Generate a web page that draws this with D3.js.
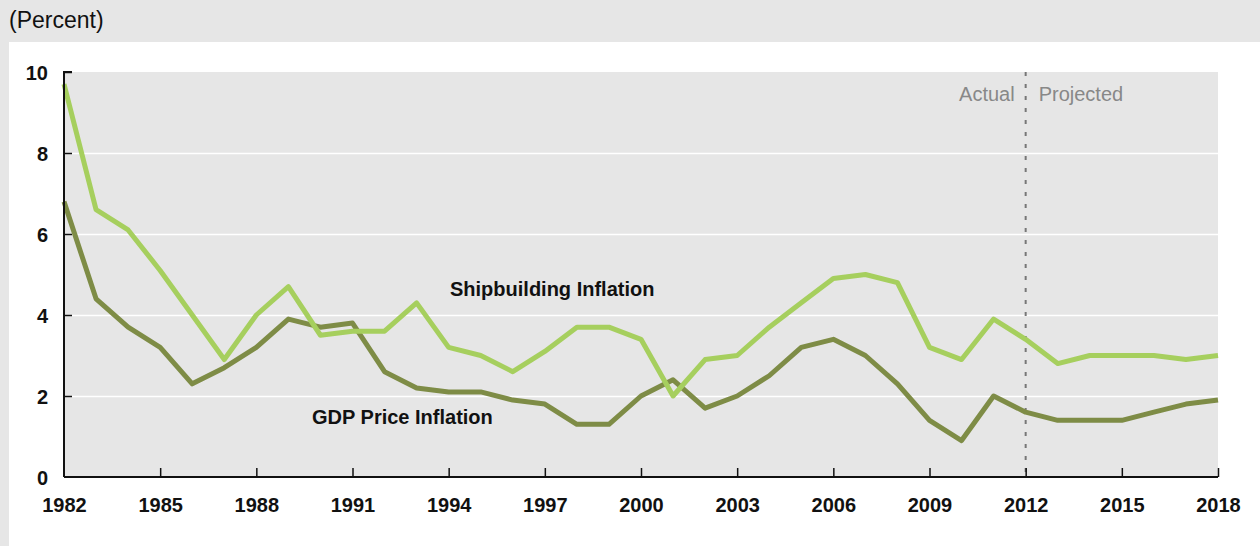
<!DOCTYPE html>
<html>
<head>
<meta charset="utf-8">
<script src="https://cdn.jsdelivr.net/npm/d3@7"></script>
<style>
  body { margin: 0; background: #e6e6e6; }
  svg { display: block; }
</style>
</head>
<body>
<svg id="viz" width="1260" height="546"></svg>
<script>
// values
const years = d3.range(1982, 2019)
const shipbuilding = [9.7, 6.6, 6.1, 5.1, 4.0, 2.9, 4.0, 4.7, 3.5, 3.6, 3.6, 4.3, 3.2, 3.0, 2.6, 3.1, 3.7, 3.7, 3.4, 2.0,
  2.9, 3.0, 3.7, 4.3, 4.9, 5.0, 4.8, 3.2, 2.9, 3.9, 3.4, 2.8, 3.0, 3.0, 3.0, 2.9, 3.0]
const gdp = [6.8, 4.4, 3.7, 3.2, 2.3, 2.7, 3.2, 3.9, 3.7, 3.8, 2.6, 2.2, 2.1, 2.1, 1.9, 1.8, 1.3, 1.3, 2.0, 2.4,
  1.7, 2.0, 2.5, 3.2, 3.4, 3.0, 2.3, 1.4, 0.9, 2.0, 1.6, 1.4, 1.4, 1.4, 1.6, 1.8, 1.9]
const xTicks = [1982, 1985, 1988, 1991, 1994, 1997, 2000, 2003, 2006, 2009, 2012, 2015, 2018]
const yTicks = [0, 2, 4, 6, 8, 10]
const splitYear = 2012

const font = 'Liberation Sans, Arial, sans-serif'
const svg = d3.select('#viz')

// white panel behind the plot
svg.append('rect')
  .attr('x', 9).attr('y', 42)
  .attr('width', 1251).attr('height', 504)
  .attr('fill', '#fff')

svg.append('text')
  .attr('x', 9).attr('y', 28)
  .attr('font-family', font)
  .attr('font-size', 23)
  .attr('fill', '#111')
  .text('(Percent)')

const pLeft = 64, pRight = 1218, pTop = 72, pBottom = 477

const x = d3.scaleLinear().domain([1982, 2018]).range([pLeft, pRight])
const y = d3.scaleLinear().domain([0, 10]).range([pBottom, pTop])

svg.append('rect')
  .attr('x', pLeft).attr('y', pTop)
  .attr('width', pRight - pLeft).attr('height', pBottom - pTop)
  .attr('fill', '#e6e6e6')

// gridlines
let grid = svg.append('g')
  .attr('transform', `translate(${pLeft},0)`)
  .call(d3.axisLeft(y).tickValues(yTicks.filter(d => d > 0 && d < 10)).tickSize(-(pRight - pLeft)).tickFormat(''))
grid.select('.domain').remove()
grid.selectAll('line').attr('stroke', '#fff').attr('stroke-width', 1.5)

// split line actual / projected
svg.append('line')
  .attr('x1', x(splitYear)).attr('x2', x(splitYear))
  .attr('y1', pTop).attr('y2', pBottom)
  .attr('stroke', '#777')
  .attr('stroke-width', 2)
  .attr('stroke-dasharray', '4,8')

svg.append('text')
  .attr('x', x(splitYear) - 11).attr('y', 101)
  .attr('text-anchor', 'end')
  .attr('font-family', font).attr('font-size', 20)
  .attr('fill', '#888')
  .text('Actual')
svg.append('text')
  .attr('x', x(splitYear) + 13).attr('y', 101)
  .attr('font-family', font).attr('font-size', 20)
  .attr('fill', '#888')
  .text('Projected')

// lines
let line = d3.line().x((d, i) => x(years[i])).y(d => y(d))

svg.append('path')
  .datum(gdp)
  .attr('d', line)
  .attr('fill', 'none')
  .attr('stroke', '#7e8c46')
  .attr('stroke-width', 5)
  .attr('stroke-linejoin', 'round')

svg.append('path')
  .datum(shipbuilding)
  .attr('d', line)
  .attr('fill', 'none')
  .attr('stroke', '#a6cf5e')
  .attr('stroke-width', 5)
  .attr('stroke-linejoin', 'round')

// series labels
svg.append('text')
  .attr('x', 450).attr('y', 296)
  .attr('font-family', font).attr('font-size', 20).attr('font-weight', 'bold')
  .attr('fill', '#111')
  .text('Shipbuilding Inflation')
svg.append('text')
  .attr('x', 312).attr('y', 424)
  .attr('font-family', font).attr('font-size', 20).attr('font-weight', 'bold')
  .attr('fill', '#111')
  .text('GDP Price Inflation')

// axes
let yAxis = svg.append('g')
  .attr('transform', `translate(${pLeft},0)`)
  .call(d3.axisLeft(y).tickValues(yTicks).tickSize(-8).tickPadding(16).tickFormat(d3.format('d')))
yAxis.select('.domain').attr('d', `M8,${pTop}H0V${pBottom}`).attr('stroke', '#111').attr('stroke-width', 2)
yAxis.selectAll('.tick line').attr('stroke', '#111').attr('stroke-width', 1.5)
yAxis.selectAll('.tick').filter(d => d === 0).select('line').remove()
yAxis.selectAll('text')
  .attr('font-family', font).attr('font-size', 20).attr('font-weight', 'bold')
  .attr('fill', '#111').attr('dy', '0.36em')

let xAxis = svg.append('g')
  .attr('transform', `translate(0,${pBottom})`)
  .call(d3.axisBottom(x).tickValues(xTicks).tickSize(-9).tickPadding(21).tickFormat(d3.format('d')))
xAxis.select('.domain').attr('d', `M${pLeft},0H${pRight}`).attr('stroke', '#111').attr('stroke-width', 2)
xAxis.selectAll('.tick line').attr('stroke', '#111').attr('stroke-width', 1.5)
xAxis.selectAll('.tick').filter(d => d === 1982).select('line').remove()
xAxis.selectAll('text')
  .attr('font-family', font).attr('font-size', 20).attr('font-weight', 'bold')
  .attr('fill', '#111')
</script>
</body>
</html>
